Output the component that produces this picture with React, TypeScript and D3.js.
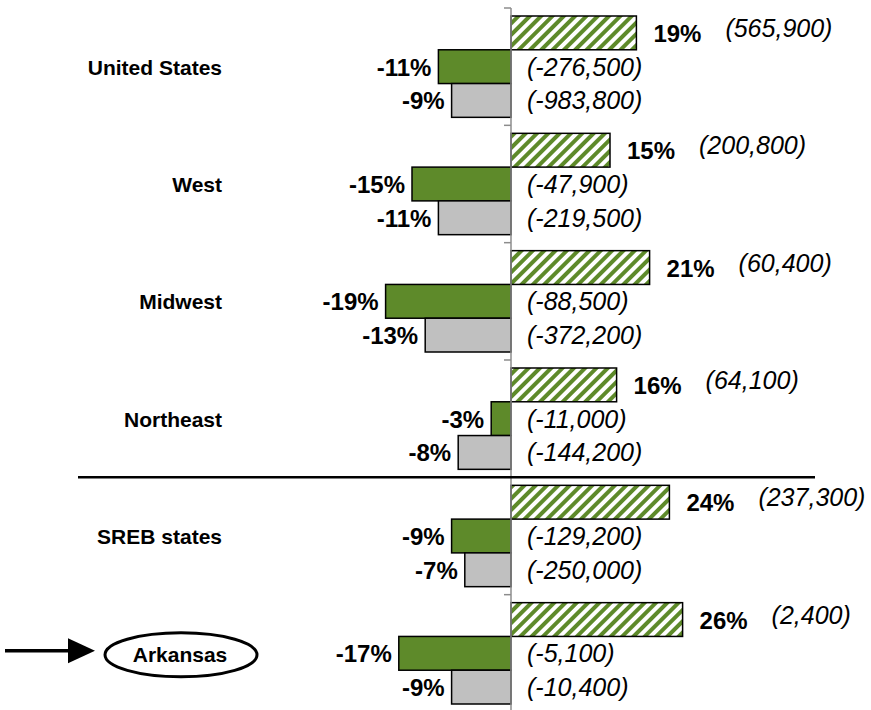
import { scaleBand, scaleLinear, format } from "d3";

const regions = ["United States", "West", "Midwest", "Northeast", "SREB states", "Arkansas"];
// percent change, three series
const hatchedPct = [19, 15, 21, 16, 24, 26];
const greenPct = [-11, -15, -19, -3, -9, -17];
const grayPct = [-9, -11, -13, -8, -7, -9];
// counts shown in parentheses
const hatchedNum = [565900, 200800, 60400, 64100, 237300, 2400];
const greenNum = [-276500, -47900, -88500, -11000, -129200, -5100];
const grayNum = [-983800, -219500, -372200, -144200, -250000, -10400];

const W = 871;
const H = 710;
const GREEN = "#5e8a2a";
const GRAY = "#c0c0c0";
const FONT = "'Liberation Sans', Arial, sans-serif";

export default function App() {
  const x = scaleLinear().domain([-30, 30]).range([511 - 198, 511 + 198]);
  const y = scaleBand().domain(regions).range([8, 712]).padding(0);
  const pad = 8;
  const bh = (y.bandwidth() - pad * 2) / 3;
  const fmt = (n: number) => format(",")(n).replace("\u2212", "-");
  const x0 = x(0);

  const series = [
    { pct: hatchedPct, num: hatchedNum, fill: "url(#hatch)" },
    { pct: greenPct, num: greenNum, fill: GREEN },
    { pct: grayPct, num: grayNum, fill: GRAY },
  ];

  // separator between regions and SREB block
  const sepY = y("SREB states")!;
  const ark = regions[regions.length - 1];
  const arkY = y(ark)! + y.bandwidth() / 2;

  return (
    <svg width={W} height={H} style={{ position: "absolute", left: 0, top: 0, background: "#fff" }} fontFamily={FONT}>
      <defs>
        <pattern id="hatch" width={8} height={8} patternUnits="userSpaceOnUse" patternTransform="rotate(45)">
          <rect width={8} height={8} fill="#fff" />
          <rect width={4} height={8} fill={GREEN} />
        </pattern>
      </defs>

      {regions.map((r, i) => {
        const top = y(r)! + pad;
        return (
          <g key={r}>
            {series.map((s, k) => {
              const v = s.pct[i];
              const by = top + k * bh;
              const bx = Math.min(x(v), x0);
              const bw = Math.abs(x(v) - x0);
              const cy = by + bh / 2;
              return (
                <g key={k}>
                  <rect x={bx} y={by} width={bw} height={bh} fill={s.fill} stroke="#000" strokeWidth={1.5} />
                  {v > 0 ? (
                    <>
                      <text x={x(v) + 17} y={cy + 9} fontSize={24} fontWeight="bold">{v}%</text>
                      <text x={x(v) + 89} y={cy + 4} fontSize={25} fontStyle="italic">({fmt(s.num[i])})</text>
                    </>
                  ) : (
                    <>
                      <text x={x(v) - 7} y={cy + 9} fontSize={24} fontWeight="bold" textAnchor="end">{v}%</text>
                      <text x={x0 + 16} y={cy + 9} fontSize={25} fontStyle="italic">({fmt(s.num[i])})</text>
                    </>
                  )}
                </g>
              );
            })}
            {r !== ark && (
              <text x={222} y={y(r)! + y.bandwidth() / 2 + 8} fontSize={21} fontWeight="bold" textAnchor="end">{r}</text>
            )}
          </g>
        );
      })}

      {/* axis */}
      <line x1={x0} x2={x0} y1={y.range()[0]} y2={H} stroke="#8c8c8c" strokeWidth={1.5} />
      {regions.map((r) => (
        <line key={r} x1={x0 - 7} x2={x0} y1={y(r)!} y2={y(r)!} stroke="#8c8c8c" strokeWidth={1.5} />
      ))}

      <line x1={78} x2={815} y1={sepY} y2={sepY} stroke="#000" strokeWidth={2.5} />

      {/* highlighted state */}
      <ellipse cx={181} cy={arkY + 1.5} rx={76} ry={22} fill="none" stroke="#000" strokeWidth={3} />
      <text x={180} y={arkY + 9} fontSize={21} fontWeight="bold" textAnchor="middle">{ark}</text>
      <line x1={5} x2={72} y1={arkY - 2.5} y2={arkY - 2.5} stroke="#000" strokeWidth={3.5} />
      <polygon points={`68,${arkY - 15} 95,${arkY - 2.5} 68,${arkY + 10}`} fill="#000" />
    </svg>
  );
}
